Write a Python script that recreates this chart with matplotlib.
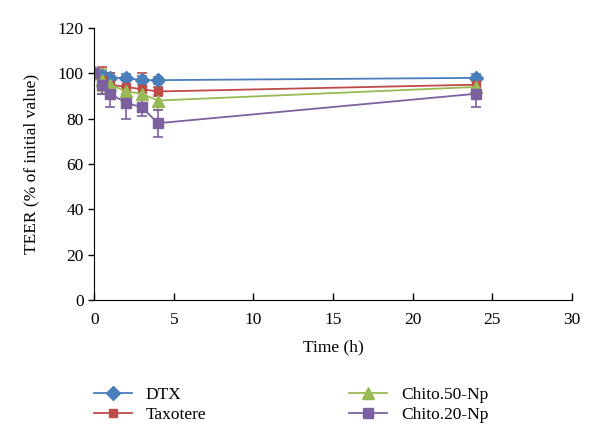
import matplotlib
matplotlib.use("Agg")
import matplotlib.pyplot as plt
from matplotlib.lines import Line2D

time_h = [0, 0.5, 1, 2, 3, 4, 24]
dtx = [100, 99, 98, 98, 97, 97, 98]
dtx_err = [1, 2, 2, 1.5, 2, 1.5, 1.5]
taxotere = [100, 97, 95, 94, 93, 92, 95]
taxotere_err = [1, 6, 5, 3, 7, 2, 2]
chito50 = [100, 97, 95, 92, 91, 88, 94]
chito50_err = [1, 5, 4, 3, 4, 4, 3]
chito20 = [100, 95, 91, 87, 85, 78, 91]
chito20_err = [1, 4, 6, 7, 4, 6, 6]

series = [
    ("DTX", dtx, dtx_err, "#4a7ebb", "D", 7),
    ("Taxotere", taxotere, taxotere_err, "#be4b48", "s", 6),
    ("Chito.50-Np", chito50, chito50_err, "#98b954", "^", 9),
    ("Chito.20-Np", chito20, chito20_err, "#7d60a0", "s", 6.5),
]

plt.rcParams['font.family'] = ['Liberation Serif', 'DejaVu Serif']
fig = plt.figure(figsize=(6, 4.45), dpi=100)
ax = fig.add_axes([0.157, 0.326, 0.796, 0.611])

handles = []
for name, vals, err, col, mk, ms in series:
    ax.errorbar(time_h, vals, yerr=err, color=col, marker=mk, markersize=ms,
                linewidth=1.3, elinewidth=1.2, capsize=3.5, capthick=1.2)
    handles.append(Line2D([], [], color=col, marker=mk, markersize=ms, linewidth=1.3))

ax.set_xlim(0, 30)
ax.set_ylim(0, 120)
ax.set_xticks(range(0, 31, 5))
ax.set_yticks(range(0, 121, 20))
ax.spines['top'].set_visible(False)
ax.spines['right'].set_visible(False)
ax.tick_params(labelsize=12.5, width=1)
ax.tick_params(axis='y', direction='out', length=4)
ax.tick_params(axis='x', direction='in', length=5, pad=9)
ax.set_xlabel("Time (h)", fontsize=12.5, labelpad=8)
ax.set_ylabel("TEER (% of initial value)", fontsize=12.5, labelpad=13)

fig.legend(handles, [s[0] for s in series], ncol=2, loc='upper left',
           bbox_to_anchor=(0.13, 0.165), frameon=False, fontsize=12.5,
           columnspacing=8.2, handlelength=2.2, labelspacing=0.2)

fig.savefig("out.png", dpi=100)
